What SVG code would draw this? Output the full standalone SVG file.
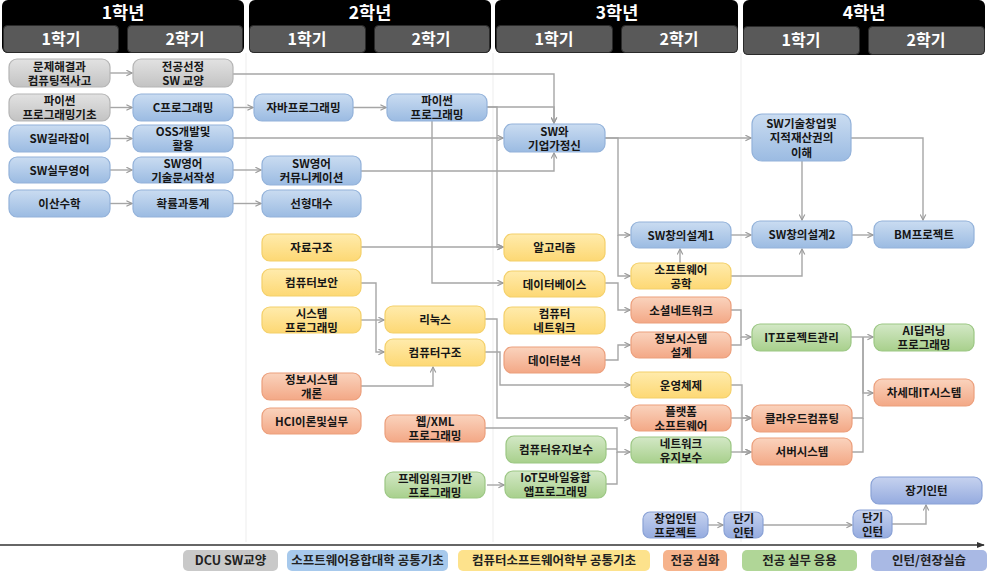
<svg xmlns="http://www.w3.org/2000/svg" width="990" height="573" viewBox="0 0 990 573">
<defs>
<linearGradient id="gGray" x1="0" y1="0" x2="0" y2="1"><stop offset="0" stop-color="#e2e2e2"/><stop offset="1" stop-color="#c3c3c3"/></linearGradient>
<linearGradient id="gBlue" x1="0" y1="0" x2="0" y2="1"><stop offset="0" stop-color="#cadcf1"/><stop offset="1" stop-color="#9bbbe2"/></linearGradient>
<linearGradient id="gYel" x1="0" y1="0" x2="0" y2="1"><stop offset="0" stop-color="#ffebac"/><stop offset="1" stop-color="#fdd874"/></linearGradient>
<linearGradient id="gOra" x1="0" y1="0" x2="0" y2="1"><stop offset="0" stop-color="#fad3bd"/><stop offset="1" stop-color="#f3a886"/></linearGradient>
<linearGradient id="gGrn" x1="0" y1="0" x2="0" y2="1"><stop offset="0" stop-color="#d3e8c6"/><stop offset="1" stop-color="#a8d08c"/></linearGradient>
<linearGradient id="gPur" x1="0" y1="0" x2="0" y2="1"><stop offset="0" stop-color="#c6d2ef"/><stop offset="1" stop-color="#95abdf"/></linearGradient>
<marker id="arr" viewBox="0 0 10 10" refX="9" refY="5" markerWidth="7" markerHeight="7" orient="auto" markerUnits="userSpaceOnUse"><path d="M1,1 L9,5 L1,9" fill="none" stroke="#9a9a9a" stroke-width="1.6"/></marker>
<marker id="axarr" viewBox="0 0 10 10" refX="9" refY="5" markerWidth="8" markerHeight="8" orient="auto" markerUnits="userSpaceOnUse"><path d="M0,1 L10,5 L0,9 Z" fill="#333"/></marker>
</defs>
<style>
text{font-family:"Noto Sans CJK KR","Noto Sans",sans-serif;font-weight:700;}
.n text{font-size:11.5px;fill:#161616;text-anchor:middle;}
.n rect{stroke-width:1.2;}
.gray rect{fill:url(#gGray);stroke:#b5b5b5;}
.blue rect{fill:url(#gBlue);stroke:#93b2da;}
.yel rect{fill:url(#gYel);stroke:#f4d06a;}
.ora rect{fill:url(#gOra);stroke:#ec9f7c;}
.grn rect{fill:url(#gGrn);stroke:#9cc784;}
.pur rect{fill:url(#gPur);stroke:#8aa2d6;}
.yr{fill:#000;}
.sem{fill:#595959;stroke:#2a2a2a;stroke-width:1;}
.yt{font-size:17.5px;fill:#fff;text-anchor:middle;}
.st{font-size:16px;fill:#fff;text-anchor:middle;}
#connectors path{fill:none;stroke:#a6a6a6;stroke-width:1.4;}
.sep{stroke:#ededed;stroke-width:1;}
.lg rect{stroke:none;}
.lg text{font-size:12.5px;fill:#222;text-anchor:middle;font-weight:700;}
</style>
<rect width="990" height="573" fill="#fff"/>
<g id="separators">
<line class="sep" x1="246" y1="53" x2="246" y2="542"/>
<line class="sep" x1="493" y1="53" x2="493" y2="542"/>
<line class="sep" x1="741" y1="53" x2="741" y2="542"/>
</g>
<g id="header">
<rect class="yr" x="2" y="0" width="242" height="53" rx="6"/>
<rect class="sem" x="3.5" y="25.5" width="115" height="27" rx="4"/>
<rect class="sem" x="127.5" y="25.5" width="115" height="27" rx="4"/>
<text class="yt" x="123" y="19">1학년</text>
<text class="st" x="61" y="45">1학기</text>
<text class="st" x="185" y="45">2학기</text>
<rect class="yr" x="249" y="0" width="242" height="53" rx="6"/>
<rect class="sem" x="249.5" y="25.5" width="116" height="27" rx="4"/>
<rect class="sem" x="374.5" y="25.5" width="115" height="27" rx="4"/>
<text class="yt" x="370" y="19">2학년</text>
<text class="st" x="307" y="45">1학기</text>
<text class="st" x="431" y="45">2학기</text>
<rect class="yr" x="495" y="0" width="243" height="53" rx="6"/>
<rect class="sem" x="496.5" y="25.5" width="116" height="27" rx="4"/>
<rect class="sem" x="621.5" y="25.5" width="116" height="27" rx="4"/>
<text class="yt" x="617" y="19">3학년</text>
<text class="st" x="554" y="45">1학기</text>
<text class="st" x="679" y="45">2학기</text>
<rect class="yr" x="743" y="0" width="242" height="55" rx="6"/>
<rect class="sem" x="743.5" y="26.5" width="116" height="28" rx="4"/>
<rect class="sem" x="868.5" y="26.5" width="116" height="28" rx="4"/>
<text class="yt" x="864" y="19">4학년</text>
<text class="st" x="801" y="46">1학기</text>
<text class="st" x="926" y="46">2학기</text>
</g>
<g id="connectors">
<path d="M110,73 H132" marker-end="url(#arr)"/>
<path d="M110,107.5 H132" marker-end="url(#arr)"/>
<path d="M110,138.5 H132" marker-end="url(#arr)"/>
<path d="M110,170 H132" marker-end="url(#arr)"/>
<path d="M110,203.5 H132" marker-end="url(#arr)"/>
<path d="M233,74 H554 V123" marker-end="url(#arr)"/>
<path d="M233,107.5 H253" marker-end="url(#arr)"/>
<path d="M233,138 H503" marker-end="url(#arr)"/>
<path d="M233,170 H261" marker-end="url(#arr)"/>
<path d="M233,203.5 H261" marker-end="url(#arr)"/>
<path d="M353,107.5 H386" marker-end="url(#arr)"/>
<path d="M487,107 H554 V123" marker-end="url(#arr)"/>
<path d="M487,107 H497 V247 H503" marker-end="url(#arr)"/>
<path d="M432,121 V283 H503" marker-end="url(#arr)"/>
<path d="M361,171 H554 V153" marker-end="url(#arr)"/>
<path d="M361,247 H503" marker-end="url(#arr)"/>
<path d="M361,283 H376 V352 H384" marker-end="url(#arr)"/>
<path d="M361,320 H384" marker-end="url(#arr)"/>
<path d="M361,386 H433 V367" marker-end="url(#arr)"/>
<path d="M485,319 H497 V418 H630" marker-end="url(#arr)"/>
<path d="M485,352 H500 V385 H630" marker-end="url(#arr)"/>
<path d="M485,428 H617 V452 H630" marker-end="url(#arr)"/>
<path d="M606,449 H617"/>
<path d="M606,484 H617 V452"/>
<path d="M487,485 H504" marker-end="url(#arr)"/>
<path d="M605,138 H751" marker-end="url(#arr)"/>
<path d="M605,138 H618 V235 H630" marker-end="url(#arr)"/>
<path d="M618,235 V276 H630" marker-end="url(#arr)"/>
<path d="M605,283 H618 V310 H630" marker-end="url(#arr)"/>
<path d="M605,360 H618 V345 H630" marker-end="url(#arr)"/>
<path d="M680,263 V249" marker-end="url(#arr)"/>
<path d="M731,235 H751" marker-end="url(#arr)"/>
<path d="M731,276 H802 V249" marker-end="url(#arr)"/>
<path d="M802,161 V220" marker-end="url(#arr)"/>
<path d="M851,138 H923 V220" marker-end="url(#arr)"/>
<path d="M852,235 H873" marker-end="url(#arr)"/>
<path d="M731,310 H741 V337 H751" marker-end="url(#arr)"/>
<path d="M731,345 H741 V337"/>
<path d="M851,337 H873" marker-end="url(#arr)"/>
<path d="M863,337 V393 H873" marker-end="url(#arr)"/>
<path d="M852,418 H863 V337"/>
<path d="M852,452 H863 V418"/>
<path d="M731,385 H742 V418 H751" marker-end="url(#arr)"/>
<path d="M742,418 V452 H751" marker-end="url(#arr)"/>
<path d="M731,418 H751" marker-end="url(#arr)"/>
<path d="M731,452 H751" marker-end="url(#arr)"/>
<path d="M708,525 H723" marker-end="url(#arr)"/>
<path d="M763,525 H852" marker-end="url(#arr)"/>
<path d="M892,524 H926 V505" marker-end="url(#arr)"/>
</g>
<g id="n1" class="n gray"><rect x="9" y="59" width="101" height="28" rx="8"/><text x="59.5" y="71">문제해결과<tspan x="59.5" dy="14">컴퓨팅적사고</tspan></text></g>
<g id="n2" class="n gray"><rect x="9" y="94" width="101" height="27" rx="8"/><text x="59.5" y="105">파이썬<tspan x="59.5" dy="14">프로그래밍기초</tspan></text></g>
<g id="n3" class="n blue"><rect x="9" y="125" width="101" height="27" rx="8"/><text x="59.5" y="143">SW길라잡이</text></g>
<g id="n4" class="n blue"><rect x="9" y="157" width="101" height="26" rx="8"/><text x="59.5" y="174.5">SW실무영어</text></g>
<g id="n5" class="n blue"><rect x="9" y="190" width="101" height="27" rx="8"/><text x="59.5" y="208">이산수학</text></g>
<g id="n6" class="n gray"><rect x="133" y="59" width="100" height="28" rx="8"/><text x="183" y="71">전공선정<tspan x="183" dy="14">SW 교양</tspan></text></g>
<g id="n7" class="n blue"><rect x="133" y="94" width="100" height="27" rx="8"/><text x="183" y="112">C프로그래밍</text></g>
<g id="n8" class="n blue"><rect x="133" y="125" width="100" height="27" rx="8"/><text x="183" y="136">OSS개발및<tspan x="183" dy="14">활용</tspan></text></g>
<g id="n9" class="n blue"><rect x="133" y="157" width="100" height="26" rx="8"/><text x="183" y="167.5">SW영어<tspan x="183" dy="14">기술문서작성</tspan></text></g>
<g id="n10" class="n blue"><rect x="133" y="190" width="100" height="27" rx="8"/><text x="183" y="208">확률과통계</text></g>
<g id="n11" class="n blue"><rect x="254" y="94" width="99" height="27" rx="8"/><text x="303.5" y="112">자바프로그래밍</text></g>
<g id="n12" class="n blue"><rect x="262" y="156" width="99" height="29" rx="8"/><text x="311.5" y="168">SW영어<tspan x="311.5" dy="14">커뮤니케이션</tspan></text></g>
<g id="n13" class="n blue"><rect x="262" y="190" width="99" height="27" rx="8"/><text x="311.5" y="208">선형대수</text></g>
<g id="n14" class="n yel"><rect x="262" y="234" width="99" height="27" rx="8"/><text x="311.5" y="252">자료구조</text></g>
<g id="n15" class="n yel"><rect x="262" y="269" width="99" height="27" rx="8"/><text x="311.5" y="287">컴퓨터보안</text></g>
<g id="n16" class="n yel"><rect x="262" y="307" width="99" height="26" rx="8"/><text x="311.5" y="317.5">시스템<tspan x="311.5" dy="14">프로그래밍</tspan></text></g>
<g id="n17" class="n ora"><rect x="262" y="373" width="99" height="27" rx="8"/><text x="311.5" y="384">정보시스템<tspan x="311.5" dy="14">개론</tspan></text></g>
<g id="n18" class="n ora"><rect x="262" y="408" width="99" height="26" rx="8"/><text x="311.5" y="425.5">HCI이론및실무</text></g>
<g id="n19" class="n blue"><rect x="387" y="94" width="100" height="27" rx="8"/><text x="437" y="105">파이썬<tspan x="437" dy="14">프로그래밍</tspan></text></g>
<g id="n20" class="n yel"><rect x="385" y="306" width="100" height="27" rx="8"/><text x="435" y="324">리눅스</text></g>
<g id="n21" class="n yel"><rect x="385" y="339" width="100" height="27" rx="8"/><text x="435" y="357">컴퓨터구조</text></g>
<g id="n22" class="n ora"><rect x="385" y="415" width="100" height="27" rx="8"/><text x="435" y="426">웹/XML<tspan x="435" dy="14">프로그래밍</tspan></text></g>
<g id="n23" class="n grn"><rect x="385" y="472" width="100" height="26" rx="8"/><text x="435" y="482.5">프레임워크기반<tspan x="435" dy="14">프로그래밍</tspan></text></g>
<g id="n24" class="n blue"><rect x="504" y="124" width="101" height="28" rx="8"/><text x="554.5" y="136">SW와<tspan x="554.5" dy="14">기업가정신</tspan></text></g>
<g id="n25" class="n yel"><rect x="504" y="234" width="101" height="27" rx="8"/><text x="554.5" y="252">알고리즘</text></g>
<g id="n26" class="n yel"><rect x="504" y="271" width="101" height="26" rx="8"/><text x="554.5" y="288.5">데이터베이스</text></g>
<g id="n27" class="n yel"><rect x="504" y="307" width="101" height="27" rx="8"/><text x="554.5" y="318">컴퓨터<tspan x="554.5" dy="14">네트워크</tspan></text></g>
<g id="n28" class="n ora"><rect x="504" y="347" width="101" height="26" rx="8"/><text x="554.5" y="364.5">데이터분석</text></g>
<g id="n29" class="n grn"><rect x="506" y="436" width="100" height="27" rx="8"/><text x="556" y="454">컴퓨터유지보수</text></g>
<g id="n30" class="n grn"><rect x="505" y="471" width="101" height="27" rx="8"/><text x="555.5" y="482">IoT모바일융합<tspan x="555.5" dy="14">앱프로그래밍</tspan></text></g>
<g id="n31" class="n blue"><rect x="631" y="222" width="100" height="26" rx="8"/><text x="681" y="239.5">SW창의설계1</text></g>
<g id="n32" class="n yel"><rect x="631" y="263" width="100" height="26" rx="8"/><text x="681" y="273.5">소프트웨어<tspan x="681" dy="14">공학</tspan></text></g>
<g id="n33" class="n ora"><rect x="631" y="297" width="100" height="26" rx="8"/><text x="681" y="314.5">소셜네트워크</text></g>
<g id="n34" class="n ora"><rect x="631" y="332" width="100" height="26" rx="8"/><text x="681" y="342.5">정보시스템<tspan x="681" dy="14">설계</tspan></text></g>
<g id="n35" class="n yel"><rect x="631" y="372" width="100" height="26" rx="8"/><text x="681" y="389.5">운영체제</text></g>
<g id="n36" class="n ora"><rect x="631" y="405" width="100" height="26" rx="8"/><text x="681" y="415.5">플랫폼<tspan x="681" dy="14">소프트웨어</tspan></text></g>
<g id="n37" class="n grn"><rect x="631" y="437" width="100" height="26" rx="8"/><text x="681" y="447.5">네트워크<tspan x="681" dy="14">유지보수</tspan></text></g>
<g id="n38" class="n blue"><rect x="752" y="114" width="99" height="47" rx="10"/><text x="801.5" y="127.5">SW기술창업및<tspan x="801.5" dy="14.5">지적재산권의</tspan><tspan x="801.5" dy="14.5">이해</tspan></text></g>
<g id="n39" class="n blue"><rect x="752" y="221" width="100" height="27" rx="8"/><text x="802" y="239">SW창의설계2</text></g>
<g id="n40" class="n grn"><rect x="752" y="324" width="99" height="27" rx="8"/><text x="801.5" y="342">IT프로젝트관리</text></g>
<g id="n41" class="n ora"><rect x="752" y="405" width="100" height="27" rx="8"/><text x="802" y="423">클라우드컴퓨팅</text></g>
<g id="n42" class="n ora"><rect x="752" y="438" width="100" height="27" rx="8"/><text x="802" y="456">서버시스템</text></g>
<g id="n43" class="n blue"><rect x="874" y="221" width="100" height="27" rx="8"/><text x="924" y="239">BM프로젝트</text></g>
<g id="n44" class="n grn"><rect x="874" y="324" width="100" height="27" rx="8"/><text x="924" y="335">AI딥러닝<tspan x="924" dy="14">프로그래밍</tspan></text></g>
<g id="n45" class="n ora"><rect x="874" y="379" width="100" height="27" rx="8"/><text x="924" y="397">차세대IT시스템</text></g>
<g id="n46" class="n pur"><rect x="871" y="477" width="111" height="27" rx="8"/><text x="926.5" y="495">장기인턴</text></g>
<g id="n47" class="n pur"><rect x="643" y="512" width="65" height="26" rx="7"/><text x="675.5" y="522.5">창업인턴<tspan x="675.5" dy="14">프로젝트</tspan></text></g>
<g id="n48" class="n pur"><rect x="724" y="512" width="39" height="26" rx="7"/><text x="743.5" y="522.5">단기<tspan x="743.5" dy="14">인턴</tspan></text></g>
<g id="n49" class="n pur"><rect x="853" y="510" width="39" height="28" rx="7"/><text x="872.5" y="521.5">단기<tspan x="872.5" dy="14">인턴</tspan></text></g>
<g id="axis"><path d="M0,545 H984" stroke="#333" stroke-width="1.5" fill="none" marker-end="url(#axarr)"/></g>
<g id="legend" class="lg">
<rect x="183" y="550" width="95" height="21" rx="5" fill="#c9c9c9"/><text x="230.5" y="565">DCU SW교양</text>
<rect x="287" y="550" width="161" height="21" rx="5" fill="#a7c9ec"/><text x="367.5" y="565">소프트웨어융합대학 공통기초</text>
<rect x="458" y="550" width="192" height="21" rx="5" fill="#fde28c"/><text x="554" y="565">컴퓨터소프트웨어학부 공통기초</text>
<rect x="663" y="550" width="64" height="21" rx="5" fill="#f6b38c"/><text x="695" y="565">전공 심화</text>
<rect x="742" y="550" width="115" height="21" rx="5" fill="#b0d697"/><text x="799.5" y="565">전공 실무 응용</text>
<rect x="871" y="550" width="116" height="21" rx="5" fill="#a9b9e4"/><text x="929" y="565">인턴/현장실습</text>
</g>
</svg>
